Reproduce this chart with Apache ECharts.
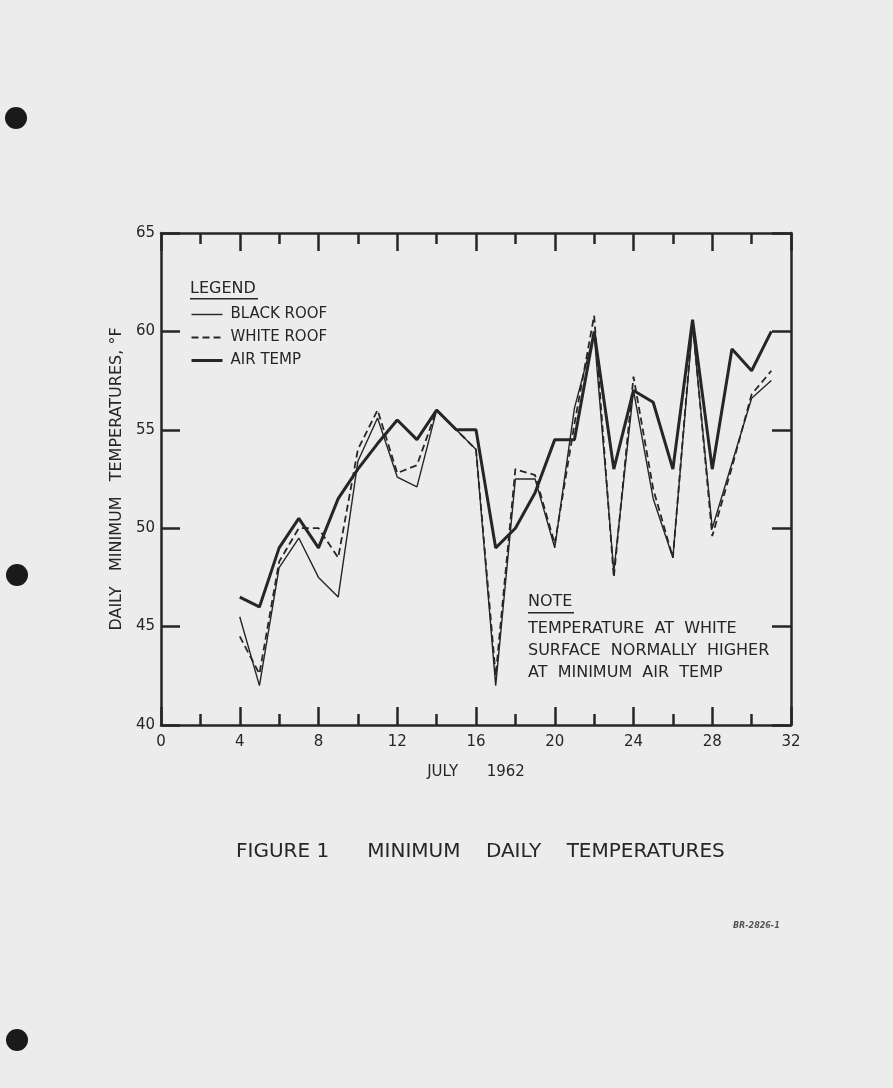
<!DOCTYPE html>
<html>
<head>
<meta charset="utf-8">
<script src="https://cdn.jsdelivr.net/npm/echarts@6/dist/echarts.min.js"></script>
<style>
  html, body { margin: 0; padding: 0; background: #ececec; }
  #chart { width: 893px; height: 1088px; }
</style>
</head>
<body>
<div id="chart"></div>
<script>
// days of July 1962
const days = [4, 5, 6, 7, 8, 9, 10, 11, 12, 13, 14, 15, 16, 17, 18, 19, 20, 21, 22, 23, 24, 25, 26, 27, 28, 29, 30, 31]
const blackRoof = [45.5, 42.0, 48.0, 49.5, 47.5, 46.5, 53.4, 55.6, 52.6, 52.1, 56.0, 55.0, 54.0, 42.0, 52.5, 52.5, 49.0, 56.1, 59.9, 47.8, 57.0, 51.5, 48.5, 60.3, 50.0, 53.3, 56.6, 57.5]
const whiteRoof = [44.5, 42.6, 48.3, 50.0, 50.0, 48.5, 54.0, 56.0, 52.8, 53.2, 56.0, 55.0, 54.0, 42.5, 53.0, 52.7, 49.2, 55.3, 60.8, 47.5, 57.7, 52.0, 48.5, 60.5, 49.6, 53.1, 56.8, 58.0]
const airTemp = [46.5, 46.0, 49.0, 50.5, 49.0, 51.5, 53.0, 54.3, 55.5, 54.5, 56.0, 55.0, 55.0, 49.0, 50.0, 51.8, 54.5, 54.5, 60.0, 53.0, 57.0, 56.4, 53.0, 60.6, 53.0, 59.1, 58.0, 60.0]
const seriesNames = ['BLACK ROOF', 'WHITE ROOF', 'AIR TEMP']
const noteLines = ['TEMPERATURE  AT  WHITE', 'SURFACE  NORMALLY  HIGHER', 'AT  MINIMUM  AIR  TEMP']

const ink = '#262626'
const font = 'DejaVu Sans, sans-serif'
const widths = [1.4, 1.8, 3]

const chart = echarts.init(document.getElementById('chart'))

const pairs = (vals) => days.map((d, i) => [d, vals[i]])

const xAxisBase = {
  type: 'value',
  min: 0,
  max: 32,
  interval: 4,
  axisLine: { onZero: false, lineStyle: { color: ink, width: 2.5 } },
  axisTick: { inside: true, length: 18, lineStyle: { color: ink, width: 2.5 } },
  minorTick: { show: true, splitNumber: 2, length: 11, lineStyle: { color: ink, width: 2.5 } },
  splitLine: { show: false },
}

const yAxisBase = {
  type: 'value',
  min: 40,
  max: 65,
  interval: 5,
  axisLine: { onZero: false, lineStyle: { color: ink, width: 2.5 } },
  axisTick: { inside: true, length: 19, lineStyle: { color: ink, width: 2.5 } },
  splitLine: { show: false },
}

const option = {
  animation: false,
  backgroundColor: '#ececec',
  grid: { left: 161, right: 102, top: 233, bottom: 363 },
  legend: {
    data: seriesNames.map((n, i) => ({ name: n, lineStyle: { width: widths[i] } })),
    orient: 'vertical',
    left: 185,
    top: 302,
    itemWidth: 31,
    itemHeight: 12,
    itemGap: 8,
    itemStyle: { opacity: 0 },
    textStyle: { color: ink, fontSize: 15, fontFamily: font, padding: [0, 0, 0, 3] },
  },
  xAxis: [
    Object.assign({}, xAxisBase, {
      position: 'bottom',
      name: 'JULY      1962',
      nameLocation: 'middle',
      nameGap: 40,
      nameTextStyle: { color: ink, fontSize: 15, fontFamily: font },
      axisLabel: { color: ink, fontSize: 15, fontFamily: font, margin: 10 },
    }),
    Object.assign({}, xAxisBase, { position: 'top', axisLabel: { show: false } }),
  ],
  yAxis: [
    Object.assign({}, yAxisBase, {
      position: 'left',
      name: 'DAILY   MINIMUM   TEMPERATURES, °F',
      nameLocation: 'middle',
      nameRotate: 90,
      nameGap: 36,
      nameTextStyle: { color: ink, fontSize: 16, fontFamily: font },
      axisLabel: { color: ink, fontSize: 15, fontFamily: font, margin: 6 },
    }),
    Object.assign({}, yAxisBase, { position: 'right', axisLabel: { show: false } }),
  ],
  series: [
    {
      name: seriesNames[0],
      type: 'line',
      data: pairs(blackRoof),
      symbol: 'none',
      lineStyle: { color: ink, width: widths[0] },
      itemStyle: { color: ink },
    },
    {
      name: seriesNames[1],
      type: 'line',
      data: pairs(whiteRoof),
      symbol: 'none',
      lineStyle: { color: ink, width: widths[1], type: [7, 4] },
      itemStyle: { color: ink },
    },
    {
      name: seriesNames[2],
      type: 'line',
      data: pairs(airTemp),
      symbol: 'none',
      lineStyle: { color: ink, width: widths[2] },
      itemStyle: { color: ink },
    },
  ],
  graphic: [
    // legend heading
    { type: 'text', left: 190, top: 281, style: { text: 'LEGEND', fill: ink, font: '16px ' + font } },
    { type: 'rect', left: 190, top: 298, shape: { width: 68, height: 1.5 }, style: { fill: ink } },
    // note
    { type: 'text', left: 528, top: 594, style: { text: 'NOTE', fill: ink, font: '16px ' + font } },
    { type: 'rect', left: 528, top: 612, shape: { width: 46, height: 1.5 }, style: { fill: ink } },
    { type: 'text', left: 528, top: 618, style: { text: noteLines.join('\n'), fill: ink, font: '16px ' + font, lineHeight: 22 } },
    // figure caption
    { type: 'text', left: 236, top: 842, style: { text: 'FIGURE 1      MINIMUM    DAILY    TEMPERATURES', fill: ink, font: '20px ' + font } },
    { type: 'text', left: 733, top: 922, style: { text: 'BR-2826-1', fill: '#555', font: 'italic bold 8px ' + font } },
    // binder holes
    { type: 'circle', shape: { cx: 16, cy: 118, r: 11 }, style: { fill: '#1a1a1a' } },
    { type: 'circle', shape: { cx: 17, cy: 575, r: 11 }, style: { fill: '#1a1a1a' } },
    { type: 'circle', shape: { cx: 17, cy: 1040, r: 11 }, style: { fill: '#1a1a1a' } },
  ],
}

chart.setOption(option)
</script>
</body>
</html>
